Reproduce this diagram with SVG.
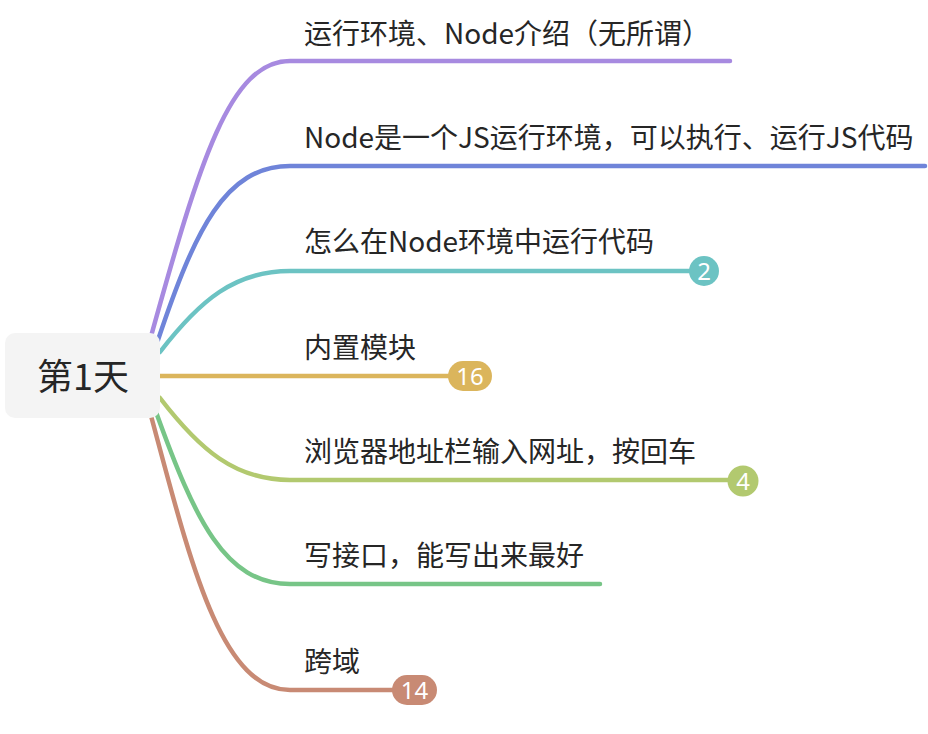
<svg xmlns="http://www.w3.org/2000/svg" width="928" height="734" viewBox="0 0 928 734">
<style>
.l{fill:none;stroke-width:4.5;stroke-linecap:round}
.t{font-family:"Microsoft YaHei","Noto Sans CJK SC","Noto Sans",sans-serif;font-size:28px;fill:#262626}
.b{font-family:"Noto Sans","Noto Sans CJK SC",sans-serif;font-size:24px;fill:#fff;text-anchor:middle}
</style>
<rect width="928" height="734" fill="#fff"/>
<g id="connectors">
<path class="l" stroke="#a78ae0" d="M150 340 C200 160 230 61 290 61 L730 61"/>
<path class="l" stroke="#6f84d9" d="M158 340 C195 230 225 166 290 166 L925 166"/>
<path class="l" stroke="#6cc3c3" d="M160 352 C200 300 235 271 290 271 L704 271"/>
<path class="l" stroke="#dbb55c" d="M150 376 L470 376"/>
<path class="l" stroke="#b2c96f" d="M160 398 C200 450 235 480 290 480 L743 480"/>
<path class="l" stroke="#77c587" d="M156 412 C195 520 225 584 290 584 L600 584"/>
<path class="l" stroke="#c88a74" d="M150 412 C190 560 220 690 290 690 L414 690"/>
</g>
<g id="root">
<rect x="5" y="333" width="155" height="85" rx="10" fill="#f4f4f4"/>
<text x="83" y="390" text-anchor="middle" style="font-family:'Microsoft YaHei','Noto Sans CJK SC',sans-serif;font-size:36px;fill:#262626">第1天</text>
</g>
<g id="n1"><text class="t" x="304" y="44">运行环境、Node介绍（无所谓）</text></g>
<g id="n2"><text class="t" x="304" y="148">Node是一个JS运行环境，可以执行、运行JS代码</text></g>
<g id="n3"><text class="t" x="304" y="252">怎么在Node环境中运行代码</text>
<circle cx="704" cy="271" r="15" fill="#6cc3c3"/><text class="b" x="704" y="279.5">2</text></g>
<g id="n4"><text class="t" x="304" y="358">内置模块</text>
<rect x="448" y="361" width="44" height="30" rx="15" fill="#dbb55c"/><text class="b" x="470" y="384.5">16</text></g>
<g id="n5"><text class="t" x="304" y="462">浏览器地址栏输入网址，按回车</text>
<circle cx="743" cy="481" r="15.5" fill="#b2c96f"/><text class="b" x="743" y="489.5">4</text></g>
<g id="n6"><text class="t" x="304" y="566">写接口，能写出来最好</text></g>
<g id="n7"><text class="t" x="304" y="672">跨域</text>
<rect x="392" y="675" width="45" height="30" rx="15" fill="#c88a74"/><text class="b" x="414.5" y="698.5">14</text></g>
</svg>
